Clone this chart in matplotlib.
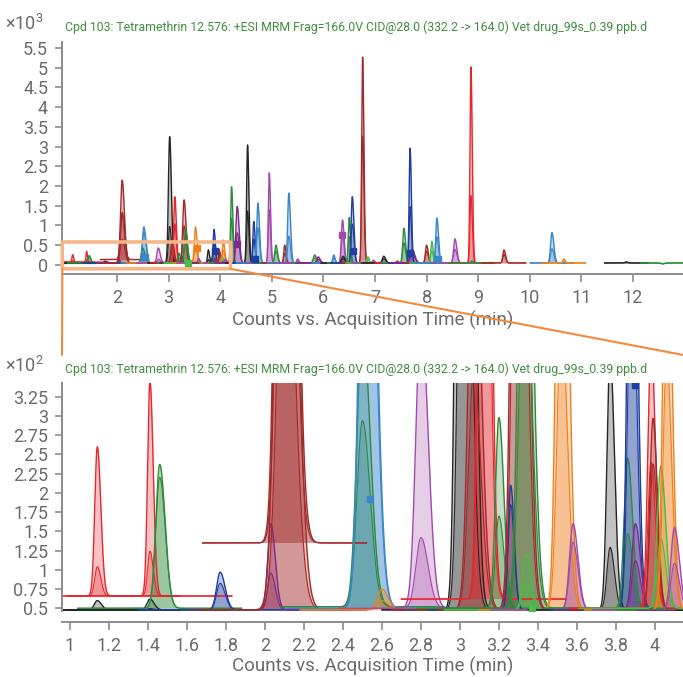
import numpy as np
import matplotlib
matplotlib.use('Agg')
import matplotlib.pyplot as plt
from matplotlib.patches import FancyBboxPatch, ConnectionPatch

plt.rcParams['font.family'] = ['Roboto', 'DejaVu Sans']
plt.rcParams['mathtext.fontset'] = 'custom'
plt.rcParams['mathtext.rm'] = 'Roboto'
plt.rcParams['mathtext.default'] = 'regular'

# colour names used by the chromatogram traces
palette = {
    'red': '#e8262b', 'darkred': '#a32a2a', 'black': '#262626',
    'blue': '#3a86c8', 'navy': '#1f3fa0', 'green': '#2e8b3a',
    'lgreen': '#4cbb47', 'purple': '#7d2a8c', 'violet': '#a24aab',
    'orange': '#f07f1a',
}

# peak table (retention time in min, height in counts)
peak_rt = [1.14, 1.14, 1.41, 1.41, 1.46, 1.77, 2.03, 2.10, 2.10, 2.50, 2.52, 2.60, 2.80,
           3.02, 3.07, 3.12, 3.20, 3.26, 3.30, 3.33, 3.34, 3.52, 3.58, 3.77, 3.86,
           3.88, 3.90, 3.98, 3.99, 4.03, 4.06, 4.10, 4.22, 4.33, 4.53, 4.65, 4.73,
           4.95, 5.08, 5.25, 5.33, 5.50, 5.83, 5.90, 6.20, 6.37, 6.38, 6.50, 6.56,
           6.76, 6.86, 6.97, 7.17, 7.43, 7.56, 7.68, 7.72, 8.00, 8.10, 8.20, 8.55,
           8.86, 8.88, 9.50, 10.43, 10.66, 11.87, 12.57]
peak_height = [260, 60, 345, 62, 237, 97, 160, 2150, 1300, 420, 960, 75, 430,
               3250, 600, 1730, 298, 210, 1650, 900, 120, 960, 160, 380, 245,
               900, 160, 400, 297, 235, 630, 155, 1980, 1480, 3040, 1100, 1570,
               2330, 500, 500, 1820, 150, 250, 200, 250, 1140, 220, 1200, 1730,
               5270, 200, 120, 220, 100, 930, 2960, 400, 500, 600, 1190, 660,
               5020, 100, 380, 820, 150, 80, 30]
peak_width = [0.013, 0.015, 0.012, 0.015, 0.02, 0.018, 0.016, 0.03, 0.035, 0.028, 0.03, 0.022, 0.026,
              0.024, 0.026, 0.02, 0.018, 0.013, 0.026, 0.026, 0.018, 0.022, 0.018, 0.016, 0.018,
              0.018, 0.018, 0.016, 0.016, 0.018, 0.018, 0.018, 0.018, 0.026, 0.018, 0.018, 0.022,
              0.018, 0.022, 0.018, 0.022, 0.018, 0.026, 0.026, 0.018, 0.022, 0.026, 0.018, 0.022,
              0.018, 0.018, 0.018, 0.026, 0.018, 0.022, 0.018, 0.035, 0.022, 0.018, 0.022, 0.026,
              0.018, 0.018, 0.022, 0.026, 0.018, 0.018, 0.026]
peak_qual = [0.40, 0.8, 0.36, 0.8, 0.93, 0.85, 0.6, 0.62, 0.5, 0.7, 0.85, 0.8, 0.33,
             0.3, 0.6, 0.6, 0.57, 0.88, 0.6, 0.6, 0.7, 0.45, 0.85, 0.34, 0.6,
             0.6, 0.7, 0.6, 0.8, 0.6, 0.6, 0.7, 0.6, 0.55, 0.45, 0.6, 0.6,
             0.6, 0.7, 0.6, 0.4, 0.7, 0.7, 0.7, 0.7, 0.65, 0.7, 0.6, 0.6,
             0.62, 0.7, 0.7, 0.7, 0.7, 0.6, 0.5, 0.7, 0.7, 0.6, 0.6, 0.6,
             0.35, 0.7, 0.7, 0.5, 0.7, 0.7, 0.7]
peak_color = ['red', 'black', 'red', 'black', 'green', 'navy', 'purple', 'darkred', 'darkred', 'green', 'blue', 'orange', 'violet',
              'black', 'darkred', 'red', 'green', 'navy', 'darkred', 'green', 'lgreen', 'orange', 'violet', 'black', 'green',
              'navy', 'purple', 'red', 'darkred', 'lgreen', 'orange', 'violet', 'green', 'purple', 'black', 'navy', 'blue',
              'violet', 'green', 'darkred', 'blue', 'violet', 'green', 'purple', 'blue', 'violet', 'black', 'green', 'navy',
              'darkred', 'lgreen', 'violet', 'black', 'red', 'green', 'navy', 'purple', 'darkred', 'lgreen', 'blue', 'violet',
              'red', 'green', 'darkred', 'blue', 'orange', 'black', 'green']
# trace baselines (counts); most sit at ~48
peak_base = [66, 48, 66, 48, 50, 48, 48, 135, 48, 52, 50, 48, 50,
             48, 48, 62, 50, 48, 48, 50, 48, 48, 48, 48, 50,
             48, 48, 50, 48, 50, 48, 48, 48, 48, 48, 48, 48,
             48, 48, 48, 48, 48, 48, 48, 48, 48, 48, 48, 48,
             48, 48, 48, 48, 48, 48, 48, 48, 48, 48, 48, 48,
             48, 48, 48, 48, 48, 48, 48]

marker_rt = [2.54, 3.37, 3.55, 3.90, 4.33, 4.67, 6.37, 6.58, 7.68, 8.22]
marker_val = [192, 50, 420, 340, 520, 150, 750, 350, 300, 150]
marker_color = ['blue', 'lgreen', 'orange', 'navy', 'purple', 'navy', 'violet', 'navy', 'navy', 'blue']

title = 'Cpd 103: Tetramethrin 12.576: +ESI MRM Frag=166.0V CID@28.0 (332.2 -> 164.0) Vet drug_99s_0.39 ppb.d'
xlabel = 'Counts vs. Acquisition Time (min)'
zoom_x = (0.94, 4.2)
zoom_y = (-0.1, 0.58)
tail = 1.4  # right-hand widening of the peaks

grey = '#6b6b6b'
spine_c = '#8c8c8c'


def draw_traces(ax, scale):
    for rt, h, w, q, c, b in zip(peak_rt, peak_height, peak_width, peak_qual, peak_color, peak_base):
        col = palette[c]
        t = np.linspace(rt - 0.42, rt + 0.42, 900)
        sd = np.where(t < rt, w, w * tail)
        for amp, lw in ((h, 1.0), (h * q, 0.8)):
            y = b + (amp - b) * np.exp(-0.5 * ((t - rt) / sd) ** 2)
            ax.fill_between(t, b / scale, y / scale, color=col, alpha=0.28, lw=0)
            ax.plot(t, y / scale, color=col, lw=lw)
    for mt, mv, mc in zip(marker_rt, marker_val, marker_color):
        ax.plot(mt, mv / scale, 's', color=palette[mc], ms=4, zorder=5)


def style(ax, offset, lpad):
    for s in ('top', 'right'):
        ax.spines[s].set_visible(False)
    for s in ('left', 'bottom'):
        ax.spines[s].set_color(spine_c)
        ax.spines[s].set_linewidth(1.4)
    ax.spines['bottom'].set_position(('outward', offset))
    ax.tick_params(colors=spine_c, labelcolor=grey, labelsize=13, length=5, width=1.2)
    ax.tick_params(axis='y', pad=5)
    ax.tick_params(axis='x', length=6, pad=5)
    ax.set_xlabel(xlabel, fontsize=13.5, color=grey, labelpad=lpad)


fig = plt.figure(figsize=(6.83, 6.77), dpi=100)

# overview chromatogram (x10^3 counts)
ax1 = fig.add_axes([0.0908, 0.6041, 0.9092, 0.3338])
draw_traces(ax1, 1000.0)
ax1.set_xlim(0.934, 12.97)
ax1.set_ylim(-0.08, 5.65)
ax1.set_xticks(np.arange(2, 13, 1))
ax1.set_yticks(np.arange(0, 5.51, 0.5))
ax1.set_yticklabels(['0', '0.5', '1', '1.5', '2', '2.5', '3', '3.5', '4', '4.5', '5', '5.5'])
style(ax1, 4, 3)
ax1.text(-0.092, 1.035, '×10$^{3}$', transform=ax1.transAxes, fontsize=13, color=grey, va='bottom')
ax1.text(0.005, 1.035, title, transform=ax1.transAxes, fontsize=8.85, color='#3f8f3f', va='bottom')

# zoomed window (x10^2 counts)
ax2 = fig.add_axes([0.0908, 0.0975, 0.9092, 0.3368])
draw_traces(ax2, 100.0)
ax2.set_xlim(0.959, 4.144)
ax2.set_ylim(0.465, 3.43)
ax2.set_xticks(np.arange(1, 4.01, 0.2))
ax2.set_xticklabels(['1', '1.2', '1.4', '1.6', '1.8', '2', '2.2', '2.4', '2.6', '2.8',
                     '3', '3.2', '3.4', '3.6', '3.8', '4'])
ax2.set_yticks(np.arange(0.5, 3.26, 0.25))
ax2.set_yticklabels(['0.5', '0.75', '1', '1.25', '1.5', '1.75', '2', '2.25', '2.5', '2.75', '3', '3.25'])
style(ax2, 8, 1)
ax2.text(-0.092, 1.03, '×10$^{2}$', transform=ax2.transAxes, fontsize=13, color=grey, va='bottom')
ax2.text(0.005, 1.03, title, transform=ax2.transAxes, fontsize=8.85, color='#3f8f3f', va='bottom')

# zoom box and connector lines
box = FancyBboxPatch((zoom_x[0], zoom_y[0]), zoom_x[1] - zoom_x[0], zoom_y[1] - zoom_y[0],
                     boxstyle='round,pad=0,rounding_size=0.06', fill=False,
                     ec='#f5b689', lw=2.6, clip_on=False, zorder=10,
                     mutation_aspect=0.3)
ax1.add_patch(box)
for xa, xb in ((zoom_x[0], 0.0), (zoom_x[1], 1.0)):
    con = ConnectionPatch(xyA=(xa, zoom_y[0]), coordsA=ax1.transData,
                          xyB=(xb, 1.123), coordsB=ax2.transAxes,
                          color='#f08a3c', lw=1.5)
    fig.add_artist(con)

fig.savefig('out.png', dpi=100)
